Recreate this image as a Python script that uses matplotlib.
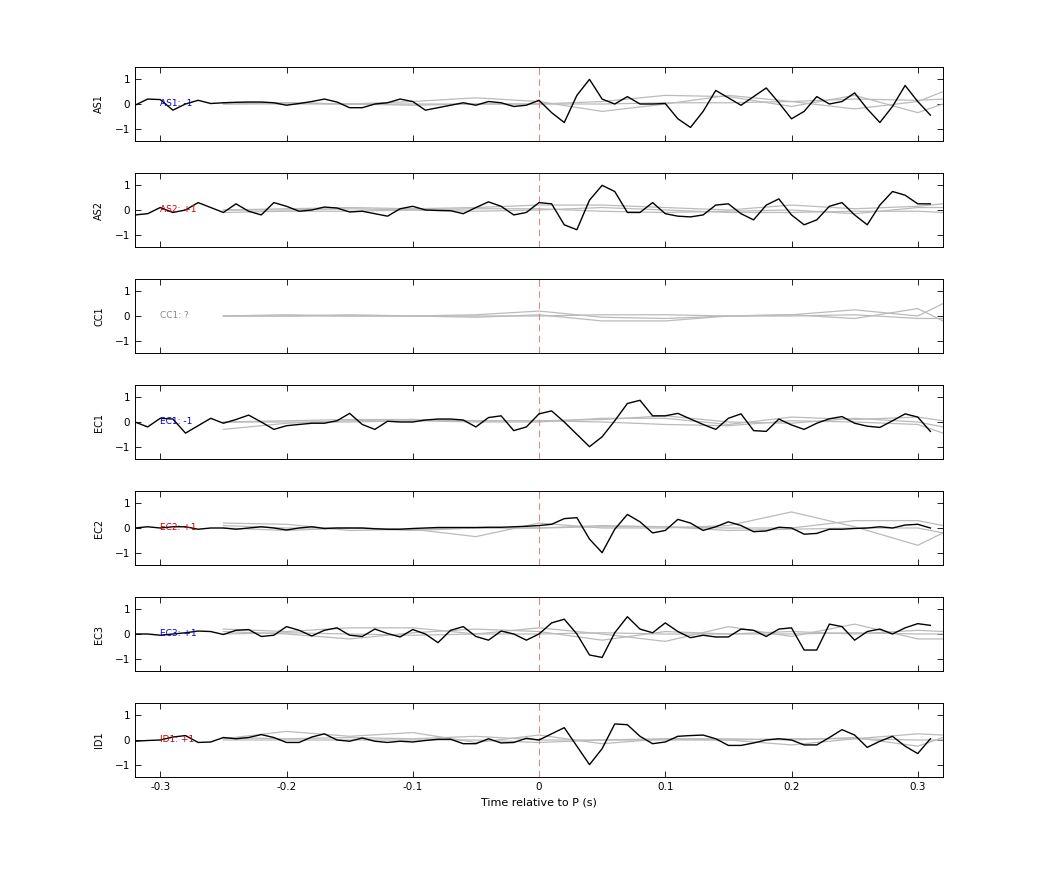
import numpy as np
import matplotlib
matplotlib.use("Agg")
import matplotlib.pyplot as plt

t = np.round(np.arange(-0.32, 0.315, 0.01), 2)
g = [-0.25, -0.2, -0.15, -0.1, -0.05, 0, 0.05, 0.1, 0.15, 0.2, 0.25, 0.3, 0.32]

stations = ["AS1", "AS2", "CC1", "EC1", "EC2", "EC3", "ID1"]
labels = ["AS1: -1", "AS2: +1", "CC1: ?", "EC1: -1", "EC2: +1", "EC3: +1", "ID1: +1"]
label_colors = ["#0000cc", "#cc0000", "#888888", "#0000cc", "#cc0000", "#0000cc", "#cc0000"]

AS1 = [-0.05, 0.2, 0.18, -0.25, 0.0, 0.15, 0.02, 0.05, 0.07, 0.08, 0.08, 0.05, -0.05, 0.02, 0.1, 0.2,
       0.08, -0.15, -0.15, 0.0, 0.05, 0.2, 0.1, -0.25, -0.15, -0.05, 0.05, -0.05, 0.1, 0.05, -0.1, -0.05,
       0.15, -0.35, -0.75, 0.35, 1.0, 0.2, 0.0, 0.3, 0.0, 0.0, 0.02, -0.6, -0.95, -0.3, 0.55, 0.25,
       -0.05, 0.3, 0.65, 0.05, -0.6, -0.3, 0.3, 0.0, 0.1, 0.45, -0.2, -0.75, -0.1, 0.75, 0.1, -0.45]
AS2 = [-0.2, -0.15, 0.1, -0.1, 0.0, 0.3, 0.1, -0.1, 0.25, -0.05, -0.2, 0.3, 0.15, -0.05, 0.0, 0.12,
       0.08, -0.08, -0.05, -0.15, -0.25, 0.05, 0.15, 0.0, -0.02, -0.03, -0.15, 0.1, 0.33, 0.15, -0.2, -0.1,
       0.3, 0.25, -0.6, -0.8, 0.4, 1.0, 0.75, -0.1, -0.1, 0.3, -0.15, -0.25, -0.28, -0.2, 0.2, 0.25,
       -0.15, -0.4, 0.2, 0.45, -0.2, -0.6, -0.4, 0.15, 0.3, -0.2, -0.6, 0.2, 0.75, 0.6, 0.25, 0.25]
CC1 = None
EC1 = [0.0, -0.2, 0.15, 0.12, -0.45, -0.15, 0.15, -0.05, 0.1, 0.28, 0.0, -0.3, -0.15, -0.1, -0.05, -0.05,
       0.05, 0.35, -0.1, -0.3, 0.03, 0.0, 0.0, 0.08, 0.12, 0.12, 0.08, -0.2, 0.18, 0.25, -0.35, -0.2,
       0.33, 0.45, 0.0, -0.5, -1.0, -0.6, 0.05, 0.75, 0.88, 0.25, 0.25, 0.35, 0.12, -0.1, -0.3, 0.15,
       0.33, -0.35, -0.38, 0.12, -0.12, -0.3, -0.05, 0.13, 0.22, -0.05, -0.17, -0.22, 0.05, 0.33, 0.2, -0.38]
EC2 = [0.0, 0.05, 0.0, 0.05, 0.05, -0.05, 0.0, 0.0, -0.05, 0.0, 0.05, 0.0, -0.08, 0.0, 0.05, -0.02,
       0.0, 0.0, 0.0, -0.03, -0.05, -0.05, -0.02, 0.0, 0.02, 0.02, 0.02, 0.02, 0.03, 0.03, 0.05, 0.07,
       0.1, 0.15, 0.38, 0.42, -0.45, -1.0, -0.05, 0.55, 0.25, -0.2, -0.1, 0.35, 0.2, -0.1, 0.05, 0.25,
       0.1, -0.15, -0.12, 0.03, 0.0, -0.25, -0.22, -0.05, -0.05, -0.02, 0.0, 0.05, 0.0, 0.12, 0.15, 0.0]
EC3 = [0.0, 0.0, -0.05, 0.0, 0.05, 0.12, 0.1, -0.02, 0.15, 0.18, -0.1, -0.05, 0.3, 0.15, -0.08, 0.15,
       0.25, -0.05, -0.1, 0.2, 0.02, -0.12, 0.18, 0.0, -0.35, 0.15, 0.3, -0.1, -0.25, 0.12, 0.0, -0.25,
       0.0, 0.45, 0.6, 0.0, -0.85, -0.95, 0.05, 0.7, 0.2, 0.05, 0.45, 0.1, -0.15, -0.05, -0.12, -0.12,
       0.2, 0.15, -0.1, 0.2, 0.25, -0.65, -0.65, 0.4, 0.3, -0.25, 0.1, 0.2, 0.0, 0.25, 0.42, 0.35]
ID1 = [-0.05, -0.02, 0.0, 0.12, 0.18, -0.1, -0.08, 0.1, 0.05, 0.1, 0.22, 0.1, -0.1, -0.1, 0.12, 0.25,
       0.0, -0.05, 0.08, -0.05, -0.1, -0.05, -0.08, -0.02, 0.03, 0.03, -0.15, -0.15, 0.05, -0.12, -0.1, 0.07,
       0.0, 0.25, 0.5, -0.25, -1.0, -0.35, 0.65, 0.62, 0.15, -0.15, -0.08, 0.15, 0.18, 0.2, 0.05, -0.22,
       -0.22, -0.12, 0.0, 0.05, 0.0, -0.2, -0.2, 0.1, 0.42, 0.2, -0.3, -0.05, 0.15, -0.25, -0.55, 0.05]
black = [AS1, AS2, CC1, EC1, EC2, EC3, ID1]

gray_AS1 = [[0.05, 0.05, 0.0, 0.1, 0.25, 0.1, -0.3, 0.0, 0.35, 0.1, -0.2, 0.1, 0.5],
            [0.0, 0.05, 0.0, -0.05, 0.0, 0.0, 0.1, 0.35, 0.3, -0.1, 0.35, -0.35, 0.0],
            [0.0, 0.0, 0.0, 0.0, 0.0, 0.0, 0.0, 0.05, 0.05, 0.1, 0.2, 0.15, 0.2]]
gray_AS2 = [[0.0, 0.05, 0.1, 0.05, 0.1, 0.2, 0.2, 0.1, 0.0, 0.2, 0.05, 0.15, 0.25],
            [-0.1, -0.05, -0.05, 0.0, -0.05, 0.0, 0.1, 0.0, -0.1, -0.1, -0.05, -0.05, -0.1],
            [0.0, 0.0, 0.05, 0.0, 0.05, 0.05, -0.05, -0.1, -0.05, 0.0, -0.15, 0.1, 0.1]]
gray_CC1 = [[0.0, 0.05, 0.0, 0.0, 0.05, 0.2, -0.05, -0.1, 0.0, 0.05, 0.25, 0.0, 0.5],
            [0.0, 0.0, 0.0, 0.0, -0.05, 0.05, -0.2, -0.2, 0.0, 0.05, -0.1, 0.3, -0.2],
            [0.0, 0.0, 0.05, 0.0, 0.0, 0.0, 0.05, 0.05, 0.0, 0.0, 0.05, -0.1, -0.1]]
gray_EC1 = [[-0.3, -0.05, 0.05, 0.1, 0.05, 0.05, 0.1, 0.25, 0.0, -0.05, 0.15, 0.0, -0.2],
            [0.0, 0.0, 0.0, 0.05, 0.0, 0.0, 0.15, 0.15, -0.1, 0.2, 0.1, 0.2, 0.05],
            [0.0, 0.05, 0.1, 0.1, 0.05, 0.05, 0.0, -0.1, -0.15, 0.05, 0.0, -0.1, -0.45]]
gray_EC2 = [[0.2, 0.15, -0.1, -0.05, -0.35, 0.2, 0.0, 0.0, 0.1, 0.65, 0.05, -0.7, -0.2],
            [0.1, 0.0, 0.0, -0.05, 0.0, 0.0, 0.05, 0.05, 0.0, 0.0, 0.3, 0.3, 0.1],
            [0.0, -0.1, 0.0, -0.1, 0.0, 0.0, 0.1, 0.05, -0.1, -0.05, 0.0, 0.0, -0.2]]
gray_EC3 = [[0.2, 0.1, 0.25, 0.25, 0.0, 0.25, 0.0, -0.3, 0.3, -0.1, 0.4, -0.2, -0.2],
            [0.1, 0.0, -0.2, 0.05, 0.2, 0.1, -0.25, 0.1, 0.0, 0.1, 0.0, 0.15, 0.1],
            [0.0, 0.05, 0.0, -0.05, 0.0, 0.0, 0.05, 0.0, 0.0, 0.0, 0.05, 0.0, 0.0]]
gray_ID1 = [[0.05, 0.35, 0.15, 0.3, -0.1, 0.2, -0.15, 0.05, 0.0, -0.2, 0.05, 0.25, 0.2],
            [0.1, 0.05, 0.1, 0.05, 0.15, 0.0, 0.0, 0.05, 0.05, 0.0, 0.1, -0.25, 0.1],
            [0.0, 0.0, 0.0, 0.0, 0.0, -0.1, 0.0, 0.0, 0.0, 0.05, 0.05, 0.0, 0.0]]
grays = [gray_AS1, gray_AS2, gray_CC1, gray_EC1, gray_EC2, gray_EC3, gray_ID1]

fig = plt.figure(figsize=(10.42, 8.75), dpi=100)
W, H = 1042, 875
left, right = 135, 943
tops = [67, 173, 279, 385, 491, 597, 703]
ph = 74
for i, st in enumerate(stations):
    ax = fig.add_axes([left / W, 1 - (tops[i] + ph) / H, (right - left) / W, ph / H])
    for gl in grays[i]:
        ax.plot(g, gl, color="#bbbbbb", lw=0.9)
    ax.axvline(0, color="#e08a8a", lw=0.8, ls=(0, (6, 4)))
    if black[i] is not None:
        ax.plot(t, black[i], color="black", lw=1.0)
    ax.text(-0.3, 0, labels[i], color=label_colors[i], fontsize=6.5, va="center", ha="left")
    ax.set_xlim(-0.32, 0.32)
    ax.set_ylim(-1.5, 1.5)
    ax.set_yticks([-1, 0, 1])
    ax.set_xticks([-0.3, -0.2, -0.1, 0, 0.1, 0.2, 0.3])
    ax.tick_params(direction="in", top=True, right=True, labelsize=7.5, length=4, width=0.6)
    for s in ax.spines.values():
        s.set_linewidth(0.7)
    ax.set_ylabel(st, fontsize=7)
    ax.yaxis.set_label_coords(-0.038, 0.5)
    if i < len(stations) - 1:
        ax.set_xticklabels([])
    else:
        ax.set_xticklabels(["-0.3", "-0.2", "-0.1", "0", "0.1", "0.2", "0.3"])
        ax.set_xlabel("Time relative to P (s)", fontsize=8)

fig.savefig("out.png", dpi=100)
